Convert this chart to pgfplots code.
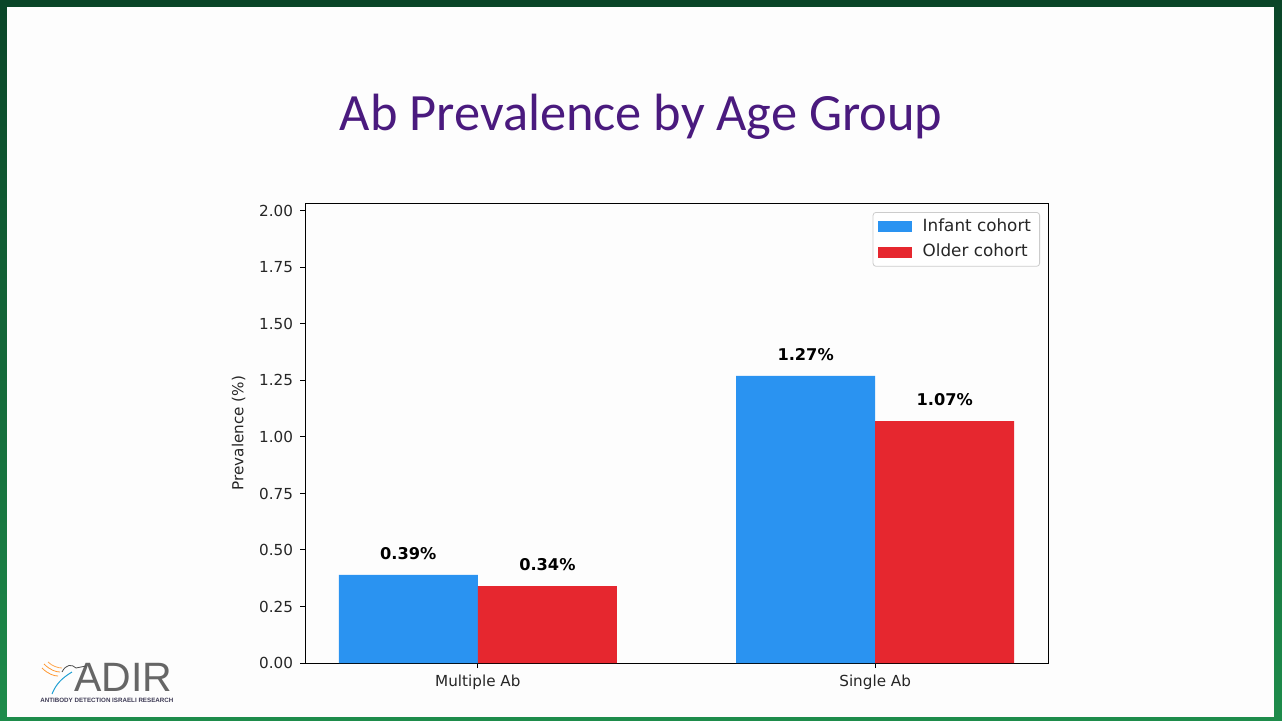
\documentclass[border=0pt]{standalone}
\usepackage{fontspec}
\usepackage{graphicx}
\usepackage{pgfplots}
\pgfplotsset{compat=1.18}
\setmainfont{DejaVu Sans}
\newfontfamily\titlefont{Carlito}
\newfontfamily\logofont{Liberation Sans}
\definecolor{infant}{HTML}{2A93F1}
\definecolor{older}{HTML}{E6272F}
\definecolor{titlepurple}{HTML}{4A1A7E}
\definecolor{gtop}{HTML}{0A4528}
\definecolor{gbot}{HTML}{1E8C4B}
\definecolor{slidebg}{HTML}{FDFDFD}
\definecolor{logotext}{HTML}{3E3B55}
\begin{document}
\begin{tikzpicture}
% slide background
\shade[top color=gtop, bottom color=gbot] (0pt,0pt) rectangle (641pt,360pt);
\fill[slidebg] (3.5pt,1.5pt) rectangle (637pt,356.5pt);
% title
\node[anchor=base, text=titlepurple, font=\titlefont\fontsize{26.2}{31}\selectfont, inner sep=0pt] at (320.5pt,295pt) {Ab Prevalence by Age Group};
% logo
\node[anchor=south west, inner sep=0pt, text=black!60, font=\logofont\fontsize{20.5}{21}\selectfont] at (37pt,14pt) {ADIR};
\node[anchor=south west, inner sep=0pt, text=logotext] at (20pt,8.3pt) {\resizebox{66.5pt}{!}{\logofont\bfseries ANTIBODY DETECTION ISRAELI RESEARCH}};
\draw[orange!80, line width=0.4pt] (21pt,26pt) .. controls (24pt,23pt) and (27pt,22pt) .. (29pt,22pt);
\draw[orange!80, line width=0.4pt] (22pt,28pt) .. controls (25pt,25pt) and (28pt,24pt) .. (30pt,24pt);
\draw[orange!70, line width=0.4pt] (24pt,29pt) .. controls (26pt,27pt) and (29pt,26pt) .. (31pt,26pt);
\draw[cyan!70!teal, line width=0.5pt] (26pt,13pt) .. controls (28pt,18pt) and (31pt,21pt) .. (36pt,24pt);
\draw[black!70, line width=0.4pt] (31pt,24pt) .. controls (33pt,28pt) and (36pt,28pt) .. (38pt,26pt) -- (43pt,27pt);
\begin{axis}[
  at={(152.5pt,28.5pt)}, anchor=south west,
  scale only axis, width=371.5pt, height=230pt,
  ybar, bar width=0.35,
  xmin=-0.435, xmax=1.435, ymin=0, ymax=2.035,
  xtick={0,1}, xticklabels={Multiple Ab, Single Ab},
  ytick={0,0.25,...,2.01},
  yticklabel style={/pgf/number format/.cd, fixed, zerofill, precision=2},
  /pgf/number format/assume math mode=true,
  tick pos=left, tick align=outside, major tick length=2.5pt,
  tick style={black, line width=0.5pt},
  axis line style={line width=0.5pt},
  ticklabel style={font=\fontsize{7.6}{9}\selectfont, text=black!85},
  ylabel={Prevalence (\%)},
  ylabel style={font=\fontsize{7.6}{9}\selectfont, text=black!85},
  legend style={at={(1,1)}, anchor=north east, xshift=-4pt, yshift=-4.5pt,
    draw=black!20, rounded corners=1.5pt, font=\fontsize{8.4}{10}\selectfont,
    row sep=0.8pt, inner xsep=2.3pt, inner ysep=1.2pt, text=black!85},
  legend cell align=left,
  nodes near coords={\pgfmathprintnumber[fixed,zerofill,precision=2]{\pgfplotspointmeta}\%},
  every node near coord/.append style={font=\bfseries\fontsize{8.1}{9}\selectfont, anchor=south, inner sep=0pt, yshift=7.5pt, text=black},
]
\addplot[bar shift=-0.175, fill=infant, draw=none,
  legend image code/.code={\fill[infant, sharp corners] (0pt,-2.75pt) rectangle (17pt,2.75pt); \path (20.5pt,0pt);}]
  coordinates {(0,0.39) (1,1.27)};
\addlegendentry{Infant cohort}
\addplot[bar shift=0.175, fill=older, draw=none,
  legend image code/.code={\fill[older, sharp corners] (0pt,-2.75pt) rectangle (17pt,2.75pt); \path (20.5pt,0pt);}]
  coordinates {(0,0.34) (1,1.07)};
\addlegendentry{Older cohort}
\end{axis}
\end{tikzpicture}
\end{document}
